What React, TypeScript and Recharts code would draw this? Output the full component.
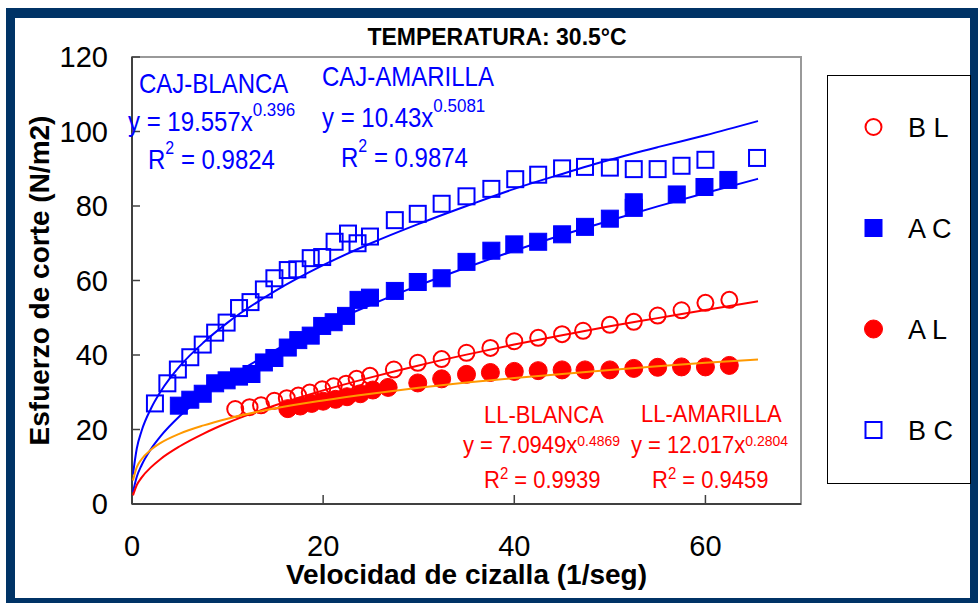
import React from 'react';
import { ComposedChart, Scatter, Line, XAxis, YAxis, ReferenceArea, Legend } from 'recharts';

// ---------- data ----------
const xTicks = [0, 20, 40, 60];
const yTicks = [0, 20, 40, 60, 80, 100, 120];

// B L : open red circles
const blPoints = [
  [10.8, 25.5], [12.3, 26.0], [13.5, 26.5], [14.9, 27.7], [16.2, 28.4], [17.4, 29.1], [18.6, 29.9],
  [19.9, 30.8], [21.1, 31.6], [22.4, 32.3], [23.5, 33.6], [24.9, 34.4], [27.4, 36.1], [29.9, 37.9],
  [32.4, 38.9], [35.0, 40.6], [37.5, 41.9], [40.0, 43.7], [42.5, 44.6], [45.0, 45.6], [47.2, 46.5],
  [50.0, 48.1], [52.5, 48.9], [55.0, 50.6], [57.5, 52.0], [60.0, 54.0], [62.5, 54.8],
];
// A C : filled blue squares
const acPoints = [
  [4.9, 26.4], [6.1, 28.0], [7.4, 29.6], [8.7, 32.4], [9.9, 33.2], [11.2, 34.2], [12.5, 34.9],
  [13.8, 38.0], [14.9, 39.2], [16.3, 42.0], [17.4, 44.0], [18.7, 45.2], [19.9, 47.8], [21.1, 48.8],
  [22.4, 50.5], [23.7, 54.8], [24.9, 55.4], [27.5, 57.2], [29.9, 59.6], [32.4, 60.6], [35.0, 65.0],
  [37.6, 68.0], [40.0, 69.7], [42.5, 70.4], [45.0, 72.4], [47.4, 74.4], [50.0, 76.6], [52.5, 79.5],
  [52.5, 81.0], [57.0, 83.1], [59.9, 85.1], [62.4, 87.0],
];
// A L : filled red circles
const alPoints = [
  [16.3, 25.6], [17.6, 26.3], [18.8, 27.0], [20.0, 27.6], [21.3, 28.1], [22.5, 28.8], [23.9, 29.6],
  [25.2, 30.6], [26.8, 31.3], [29.9, 32.5], [32.4, 33.6], [35.0, 34.8], [37.5, 35.3], [40.0, 35.6],
  [42.5, 35.8], [45.0, 36.0], [47.4, 36.0], [50.0, 36.0], [52.5, 36.4], [55.0, 36.7], [57.5, 36.8],
  [60.0, 36.8], [62.5, 37.2],
];
// B C : open blue squares
const bcPoints = [
  [2.4, 27.0], [3.7, 32.4], [4.8, 36.1], [6.1, 39.4], [7.4, 42.8], [8.7, 46.0], [9.9, 48.7],
  [11.2, 52.6], [12.4, 54.2], [13.8, 57.6], [14.9, 60.6], [16.3, 62.8], [17.3, 63.0], [18.7, 66.0],
  [19.9, 66.3], [21.2, 70.4], [22.6, 72.6], [23.6, 70.0], [24.9, 71.8], [27.5, 76.2], [29.9, 77.9],
  [32.4, 80.6], [35.0, 82.6], [37.6, 84.6], [40.1, 87.2], [42.5, 88.4], [45.0, 90.1], [47.4, 90.5],
  [50.0, 90.3], [52.5, 89.9], [55.0, 89.9], [57.5, 90.8], [60.0, 92.4], [65.4, 92.9],
];

// trend lines
const trendX = [0.1, 0.5, 1, 2, 3, 5, 7.5, 10, 15, 20, 25, 30, 35, 40, 45, 50, 55, 60, 65.5];
const cajBlancaY = [7.9, 14.9, 19.6, 25.7, 30.2, 37.0, 43.4, 48.7, 57.2, 64.1, 70.0, 75.2, 80.0, 84.6, 88.6, 92.4, 95.8, 99.0, 102.8];
const cajAmarillaY = [3.2, 7.3, 10.4, 14.8, 18.2, 23.6, 29.0, 33.6, 41.3, 47.8, 53.5, 58.7, 63.5, 68.0, 72.2, 76.1, 79.9, 83.5, 87.3];
const llBlancaY = [2.3, 5.1, 7.1, 9.9, 12.1, 15.5, 18.9, 21.8, 26.5, 30.5, 34.0, 37.2, 40.1, 42.8, 45.3, 47.7, 49.9, 52.1, 54.4];
const llAmarillaY = [6.3, 9.9, 12.0, 14.6, 16.4, 18.9, 21.1, 22.9, 25.7, 27.8, 29.6, 31.2, 32.6, 33.8, 34.9, 36.0, 37.0, 37.9, 38.8];

// ---------- helpers ----------
const FONT = '"Liberation Sans", Arial, sans-serif';
const toObjs = (pts: number[][]) => pts.map(([x, y]) => ({ x, y }));
const trend = (ys: number[]) => trendX.map((x, i) => ({ x, y: ys[i] }));

const BLUE = '#0000FF';
const RED = '#FF0000';
const ORANGE = '#FF9900';

const markerEl = (kind: string, cx: number, cy: number, scale = 1) => {
  switch (kind) {
    case 'openCircle':
      return <circle cx={cx} cy={cy} r={8 * scale} fill="none" stroke={RED} strokeWidth={2} />;
    case 'filledCircle':
      return <circle cx={cx} cy={cy} r={9 * scale} fill={RED} stroke={RED} strokeWidth={1} />;
    case 'filledSquare':
      return <rect x={cx - 8.5 * scale} y={cy - 8.5 * scale} width={17 * scale} height={17 * scale} fill={BLUE} stroke={BLUE} strokeWidth={1} />;
    default:
      return <rect x={cx - 8 * scale} y={cy - 8 * scale} width={16 * scale} height={16 * scale} fill="none" stroke={BLUE} strokeWidth={2} />;
  }
};

const series = [
  { name: 'B L', kind: 'openCircle', data: blPoints },
  { name: 'A C', kind: 'filledSquare', data: acPoints },
  { name: 'A L', kind: 'filledCircle', data: alPoints },
  { name: 'B C', kind: 'openSquare', data: bcPoints },
];

const trends = [
  { key: 'cajBlanca', ys: cajBlancaY, color: BLUE },
  { key: 'cajAmarilla', ys: cajAmarillaY, color: BLUE },
  { key: 'llBlanca', ys: llBlancaY, color: RED },
  { key: 'llAmarilla', ys: llAmarillaY, color: ORANGE },
];

const YTick = (props: any) => {
  const { x, y, payload } = props;
  return (
    <g>
      <line x1={x} x2={x + 8} y1={y} y2={y} stroke="#404040" strokeWidth={1.5} />
      <text x={x - 24} y={y + 10} textAnchor="end" fontSize={29} fontFamily={FONT} fill="#000">
        {payload.value}
      </text>
    </g>
  );
};

const XTick = (props: any) => {
  const { x, y, payload } = props;
  return (
    <g>
      <line x1={x} x2={x} y1={y} y2={y - 9} stroke="#404040" strokeWidth={1.5} />
      <text x={x} y={y + 52} textAnchor="middle" fontSize={29} fontFamily={FONT} fill="#000">
        {payload.value}
      </text>
    </g>
  );
};

const XLabel = (props: any) => {
  const vb = props.viewBox;
  return (
    <text x={vb.x + vb.width / 2} y={vb.y + 80} textAnchor="middle" fontSize={28} fontWeight="bold" fontFamily={FONT} fill="#000">
      Velocidad de cizalla (1/seg)
    </text>
  );
};

const YLabel = (props: any) => {
  const vb = props.viewBox;
  const cx = vb.x + vb.width - 83;
  const cy = vb.y + vb.height / 2;
  return (
    <text x={cx} y={cy} transform={`rotate(-90, ${cx}, ${cy})`} textAnchor="middle" fontSize={28} fontWeight="bold" fontFamily={FONT} fill="#000">
      Esfuerzo de corte (N/m2)
    </text>
  );
};

const LegendBox = (props: any) => {
  const names = (props.payload || []).map((p: any) => p.value);
  const items = series.filter((s) => names.length === 0 || names.includes(s.name));
  return (
    <svg width={144} height={409} style={{ display: 'block' }}>
      <rect x={0.5} y={0.5} width={143} height={408} fill="#fff" stroke="#000" strokeWidth={1} />
      {items.map((s, i) => {
        const cy = 52 + 101 * i;
        return (
          <g key={s.name}>
            {markerEl(s.kind, 46.5, cy, 1)}
            <text x={81} y={cy + 10} fontSize={27} fontFamily={FONT} fill="#000">
              {s.name}
            </text>
          </g>
        );
      })}
    </svg>
  );
};

const Ann = ({ x, y, color, size, supSize, dy, main, sup, after, stretch = 1 }: any) => (
  <text
    x={x}
    y={y}
    fill={color}
    fontSize={size}
    fontFamily={FONT}
    transform={`translate(0, ${y}) scale(1, ${stretch}) translate(0, ${-y})`}
  >
    {main}
    {sup !== undefined && (
      <tspan fontSize={supSize} dy={dy}>
        {sup}
      </tspan>
    )}
    {after !== undefined && (
      <tspan fontSize={size} dy={-dy}>
        {after}
      </tspan>
    )}
  </text>
);

export default function App() {
  return (
    <div style={{ position: 'absolute', left: 0, top: 0, width: 978, height: 603, overflow: 'hidden' }}>
      <div
        style={{
          position: 'absolute',
          left: 6,
          top: 8,
          width: 972,
          height: 595,
          boxSizing: 'border-box',
          borderStyle: 'solid',
          borderColor: '#003366',
          borderWidth: '10px 8px 5px 9px',
          background: '#fff',
        }}
      />
      <div style={{ position: 'absolute', left: 0, top: 0 }}>
        <ComposedChart width={978} height={603} margin={{ top: 57, right: 177, bottom: 59, left: 72 }}>
          <ReferenceArea x1={0} x2={70} y1={0} y2={120} fill="none" stroke="#999999" strokeWidth={2} ifOverflow="visible" />
          <XAxis
            type="number"
            dataKey="x"
            domain={[0, 70]}
            ticks={xTicks}
            allowDataOverflow
            height={40}
            tickSize={0}
            tickMargin={0}
            tickLine={false}
            axisLine={{ stroke: '#404040', strokeWidth: 2 }}
            tick={<XTick />}
            label={<XLabel />}
          />
          <YAxis
            type="number"
            dataKey="y"
            domain={[0, 120]}
            ticks={yTicks}
            allowDataOverflow
            width={60}
            tickSize={0}
            tickMargin={0}
            tickLine={false}
            axisLine={{ stroke: '#404040', strokeWidth: 2 }}
            tick={<YTick />}
            label={<YLabel />}
          />
          <Legend
            layout="vertical"
            align="center"
            verticalAlign="middle"
            wrapperStyle={{ position: 'absolute', left: 827, top: 75, width: 144, height: 409 }}
            content={<LegendBox />}
          />
          {series.map((s) => (
            <Scatter
              key={s.name}
              name={s.name}
              data={toObjs(s.data)}
              fill={s.kind.includes('Circle') ? RED : BLUE}
              isAnimationActive={false}
              shape={(p: any) => markerEl(s.kind, p.cx, p.cy)}
            />
          ))}
          {trends.map((t) => (
            <Line
              key={t.key}
              data={trend(t.ys)}
              dataKey="y"
              type="monotone"
              stroke={t.color}
              strokeWidth={2}
              dot={false}
              activeDot={false}
              legendType="none"
              isAnimationActive={false}
              zIndex={700}
            />
          ))}
        </ComposedChart>
      </div>
      <svg width={978} height={603} style={{ position: 'absolute', left: 0, top: 0, pointerEvents: 'none' }}>
        <text x={497} y={45} textAnchor="middle" fontSize={23} fontWeight="bold" fontFamily={FONT} fill="#000">
          TEMPERATURA: 30.5°C
        </text>
        <Ann x={139} y={93} color={BLUE} size={24} stretch={1.12} main="CAJ-BLANCA" />
        <Ann x={128} y={131} color={BLUE} size={24} stretch={1.12} supSize={17} dy={-13} main="y = 19.557x" sup="0.396" />
        <Ann x={148} y={169} color={BLUE} size={24} stretch={1.12} supSize={16} dy={-13} main="R" sup="2" after=" = 0.9824" />
        <Ann x={322} y={86} color={BLUE} size={24} stretch={1.12} main="CAJ-AMARILLA" />
        <Ann x={322} y={127} color={BLUE} size={24} stretch={1.12} supSize={17} dy={-13} main="y = 10.43x" sup="0.5081" />
        <Ann x={341} y={167} color={BLUE} size={24} stretch={1.12} supSize={16} dy={-13} main="R" sup="2" after=" = 0.9874" />
        <Ann x={484} y={423} color={RED} size={22} stretch={1.05} main="LL-BLANCA" />
        <Ann x={641} y={422} color={RED} size={22} stretch={1.05} main="LL-AMARILLA" />
        <Ann x={463} y={453} color={RED} size={22} stretch={1.05} supSize={14} dy={-7} main="y = 7.0949x" sup="0.4869" />
        <Ann x={631} y={453} color={RED} size={22} stretch={1.05} supSize={14} dy={-7} main="y = 12.017x" sup="0.2804" />
        <Ann x={484} y={488} color={RED} size={22} stretch={1.05} supSize={15} dy={-9} main="R" sup="2" after=" = 0.9939" />
        <Ann x={652} y={488} color={RED} size={22} stretch={1.05} supSize={15} dy={-9} main="R" sup="2" after=" = 0.9459" />
      </svg>
    </div>
  );
}
